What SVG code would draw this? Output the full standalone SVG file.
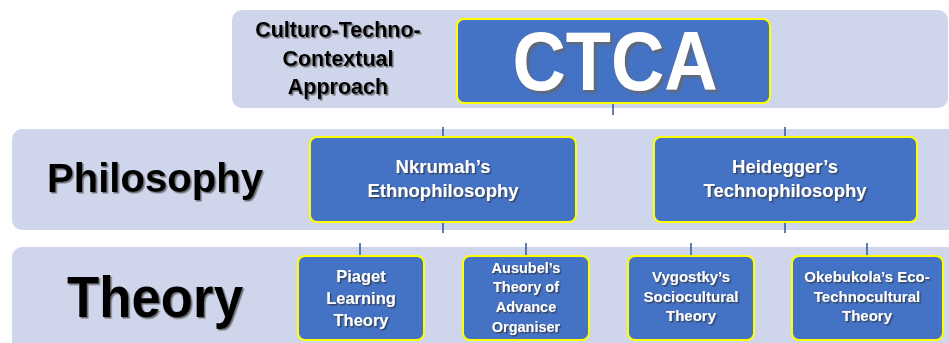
<svg xmlns="http://www.w3.org/2000/svg" width="949" height="343" viewBox="0 0 949 343">
<defs>
<filter id="sh" x="-10%" y="-10%" width="120%" height="130%"><feDropShadow dx="1.5" dy="1.5" stdDeviation="0.6" flood-color="#555" flood-opacity="0.8"/></filter>
<filter id="shw" x="-10%" y="-10%" width="120%" height="130%"><feDropShadow dx="1.5" dy="1.5" stdDeviation="0.5" flood-color="#333" flood-opacity="0.7"/></filter>
<filter id="shb" x="-10%" y="-10%" width="120%" height="130%"><feDropShadow dx="2.5" dy="2.5" stdDeviation="1" flood-color="#666" flood-opacity="0.9"/></filter>
</defs>
<style>
.band{fill:#CFD5EA}
.box{fill:#4472C4;stroke:#FFFF00;stroke-width:2}
.lbl{font-family:"Liberation Sans",Arial,sans-serif;font-weight:bold;fill:#000;text-anchor:middle}
.wt{font-family:"Liberation Sans",Arial,sans-serif;font-weight:bold;fill:#fff;text-anchor:middle}
.con{stroke:#2F5597;stroke-width:1.5;fill:none}
</style>
<rect class="band" x="232" y="10" width="716" height="98" rx="10"/>
<rect class="band" x="12" y="129" width="945" height="101" rx="10"/>
<rect class="band" x="12" y="247" width="945" height="110" rx="10"/>
<g id="connectors">
<line class="con" x1="613" y1="103" x2="613" y2="115"/>
<line class="con" x1="443" y1="127" x2="443" y2="137"/>
<line class="con" x1="785" y1="127" x2="785" y2="137"/>
<line class="con" x1="443" y1="222" x2="443" y2="233"/>
<line class="con" x1="785" y1="222" x2="785" y2="233"/>
<line class="con" x1="360" y1="243" x2="360" y2="256"/>
<line class="con" x1="526" y1="243" x2="526" y2="256"/>
<line class="con" x1="691" y1="243" x2="691" y2="256"/>
<line class="con" x1="867" y1="243" x2="867" y2="256"/>
</g>
<g id="label-ctca" filter="url(#sh)">
<text class="lbl" x="338" y="37" font-size="21.5">Culturo-Techno-</text>
<text class="lbl" x="338" y="66" font-size="21.5">Contextual</text>
<text class="lbl" x="338" y="94" font-size="21.5">Approach</text>
</g>
<g id="label-philosophy" filter="url(#sh)">
<text class="lbl" x="155" y="192" font-size="40" textLength="216" lengthAdjust="spacingAndGlyphs">Philosophy</text>
</g>
<g id="label-theory" filter="url(#sh)">
<text class="lbl" x="155" y="317" font-size="58" textLength="176" lengthAdjust="spacingAndGlyphs">Theory</text>
</g>
<g id="ctca">
<rect class="box" x="457" y="19" width="313" height="84" rx="7"/>
<text class="wt" x="615" y="90" font-size="84" textLength="205" lengthAdjust="spacingAndGlyphs" filter="url(#shb)">CTCA</text>
</g>
<g id="nkrumah">
<rect class="box" x="310" y="137" width="266" height="85" rx="7"/>
<g filter="url(#shw)"><text class="wt" x="443" y="173" font-size="18.5">Nkrumah’s</text>
<text class="wt" x="443" y="197" font-size="18.5">Ethnophilosophy</text></g>
</g>
<g id="heidegger">
<rect class="box" x="654" y="137" width="263" height="85" rx="7"/>
<g filter="url(#shw)"><text class="wt" x="785" y="173" font-size="18.5">Heidegger’s</text>
<text class="wt" x="785" y="197" font-size="18.5">Technophilosophy</text></g>
</g>
<g id="piaget">
<rect class="box" x="298" y="256" width="126" height="84" rx="7"/>
<g filter="url(#shw)"><text class="wt" x="361" y="282" font-size="16.5">Piaget</text>
<text class="wt" x="361" y="304" font-size="16.5">Learning</text>
<text class="wt" x="361" y="326" font-size="16.5">Theory</text></g>
</g>
<g id="ausubel">
<rect class="box" x="463" y="256" width="126" height="84" rx="7"/>
<g filter="url(#shw)"><text class="wt" x="526" y="273" font-size="14.5">Ausubel’s</text>
<text class="wt" x="526" y="292" font-size="14.5">Theory of</text>
<text class="wt" x="526" y="312" font-size="14.5">Advance</text>
<text class="wt" x="526" y="332" font-size="14.5">Organiser</text></g>
</g>
<g id="vygostky">
<rect class="box" x="628" y="256" width="126" height="84" rx="7"/>
<g filter="url(#shw)"><text class="wt" x="691" y="282" font-size="15">Vygostky’s</text>
<text class="wt" x="691" y="302" font-size="15">Sociocultural</text>
<text class="wt" x="691" y="321" font-size="15">Theory</text></g>
</g>
<g id="okebukola">
<rect class="box" x="792" y="256" width="151" height="84" rx="7"/>
<g filter="url(#shw)"><text class="wt" x="867" y="282" font-size="15">Okebukola’s Eco-</text>
<text class="wt" x="867" y="302" font-size="15">Technocultural</text>
<text class="wt" x="867" y="321" font-size="15">Theory</text></g>
</g>
</svg>
